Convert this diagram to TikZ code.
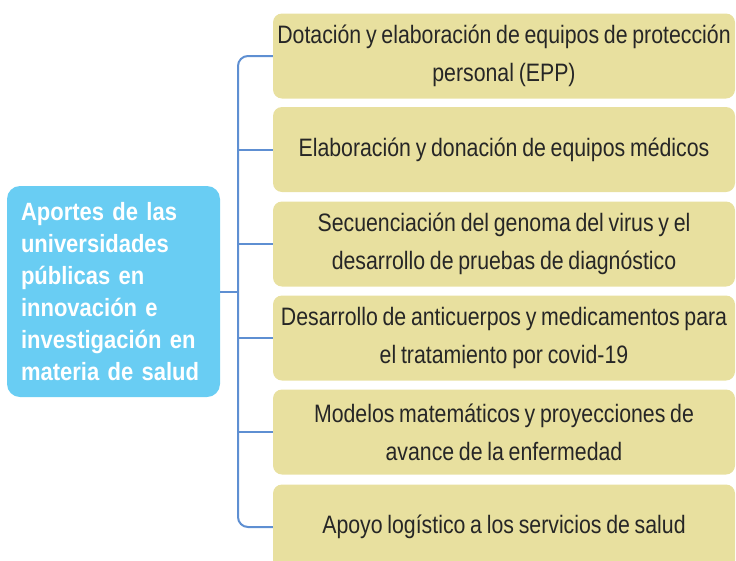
\documentclass[tikz,border=0pt]{standalone}
\usepackage{fontspec}
\setmainfont{Liberation Sans}[FakeStretch=0.845, WordSpace=0.8,
  BoldFeatures={FakeStretch=0.88}]
\definecolor{mainblue}{HTML}{69CDF3}
\definecolor{boxyellow}{HTML}{E8E09F}
\definecolor{linkblue}{HTML}{5E8FD2}
\definecolor{txtgray}{HTML}{262626}
\newcommand\mbfont{\fontsize{25}{32}\selectfont\bfseries\fontdimen2\font=5pt\relax\fontdimen3\font=0pt\relax}
\begin{document}
\begin{tikzpicture}[x=1pt,y=-1pt,
  itembox/.style={fill=boxyellow, rounded corners=9pt, minimum width=462pt, minimum height=85pt,
    text=txtgray, align=center, inner sep=0pt, font=\fontsize{25.2}{38}\selectfont},
  mainbox/.style={fill=mainblue, rounded corners=13pt, minimum width=213pt, minimum height=211pt,
    text=white, align=left, inner sep=0pt, text width=185pt, font=\mbfont},
  link/.style={draw=linkblue, line width=2pt}]
\useasboundingbox (0,0) rectangle (736,560);
\node[mainbox] (main) at (113.5,291.5) {Aportes de las\\universidades\\públicas en\\innovación e\\investigación en\\materia de salud};
\node[itembox] (b1) at (504,56) {Dotación y elaboración de equipos de protección\\personal (EPP)};
\node[itembox] (b2) at (504,149.5) {Elaboración y donación de equipos médicos};
\node[itembox] (b3) at (504,244) {Secuenciación del genoma del virus y el\\desarrollo de pruebas de diagnóstico};
\node[itembox] (b4) at (504,338) {Desarrollo de anticuerpos y medicamentos para\\el tratamiento por covid-19};
\node[itembox] (b5) at (504,432) {Modelos matemáticos y proyecciones de\\avance de la enfermedad};
\node[itembox] (b6) at (504,527) {Apoyo logístico a los servicios de salud};
\coordinate (spine) at (238,293);
\draw[link, rounded corners=10pt] (b1.west) -- (b1.west -| spine) -- (b6.west -| spine) -- (b6.west);
\foreach \b in {b2,b3,b4,b5} \draw[link] (spine |- \b.west) -- (\b.west);
\draw[link] (main.east) -- (main.east -| spine);
\end{tikzpicture}
\end{document}
